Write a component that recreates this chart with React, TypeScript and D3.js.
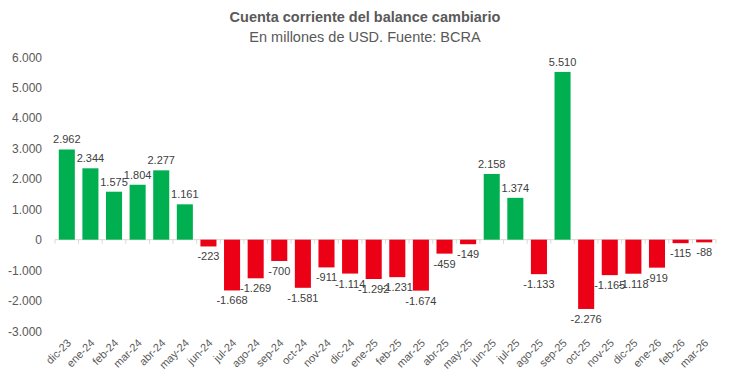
import React from "react";
import * as d3 from "d3";

const categories = ["dic-23","ene-24","feb-24","mar-24","abr-24","may-24","jun-24","jul-24","ago-24","sep-24","oct-24","nov-24","dic-24","ene-25","feb-25","mar-25","abr-25","may-25","jun-25","jul-25","ago-25","sep-25","oct-25","nov-25","dic-25","ene-26","feb-26","mar-26"];
const values = [2962,2344,1575,1804,2277,1161,-223,-1668,-1269,-700,-1581,-911,-1114,-1292,-1231,-1674,-459,-149,2158,1374,-1133,5510,-2276,-1165,-1118,-919,-115,-88];
const yTicks = [-3000,-2000,-1000,0,1000,2000,3000,4000,5000,6000];
const title = "Cuenta corriente del balance cambiario";
const subtitle = "En millones de USD. Fuente: BCRA";

const W = 730, H = 378;
const fmt = (v: number) => {
  const s = Math.abs(v).toString().replace(/\B(?=(\d{3})+(?!\d))/g, ".");
  return (v < 0 ? "-" : "") + s;
};

export default function App() {
  const x = d3.scaleBand<string>().domain(categories).range([55, 716]).paddingInner(0.32).paddingOuter(0.16);
  const y = d3.scaleLinear().domain([-3000, 6000]).range([331, 57]);
  const font = "'Liberation Sans', Arial, sans-serif";
  const step = x.step();
  const x0 = 55;
  return (
    <svg width={W} height={H} style={{ position: "absolute", left: 0, top: 0, fontFamily: font }}>
      <rect width={W} height={H} fill="#fff" />
      <text x={365} y={22} textAnchor="middle" fontSize={14.5} fontWeight="bold" fill="#595959">{title}</text>
      <text x={365} y={42} textAnchor="middle" fontSize={14.5} fill="#595959">{subtitle}</text>
      {yTicks.map(t => (
        <text key={t} x={42} y={y(t) + 4.5} textAnchor="end" fontSize={12} fill="#595959">{fmt(t)}</text>
      ))}
      <line x1={x0} x2={716} y1={y(0)} y2={y(0)} stroke="#d9d9d9" strokeWidth={1} />
      {d3.range(categories.length + 1).map(i => (
        <line key={i} x1={x0 + i * step} x2={x0 + i * step} y1={y(0)} y2={y(0) + 4} stroke="#d9d9d9" />
      ))}
      {categories.map((c, i) => {
        const v = values[i];
        const bx = x(c)!;
        const bw = x.bandwidth();
        const top = Math.min(y(v), y(0));
        const h = Math.abs(y(v) - y(0));
        const cx = bx + bw / 2;
        return (
          <g key={c}>
            <rect x={bx} y={top} width={bw} height={h} fill={v >= 0 ? "#00b050" : "#ec0016"} />
            <text x={cx} y={v >= 0 ? y(v) - 6 : y(v) + 14} textAnchor="middle" fontSize={11} fill="#404040">{fmt(v)}</text>
            <text transform={`translate(${cx + 5},${y(0) + 104}) rotate(-45)`} textAnchor="end" fontSize={11} fill="#595959">{c}</text>
          </g>
        );
      })}
    </svg>
  );
}
